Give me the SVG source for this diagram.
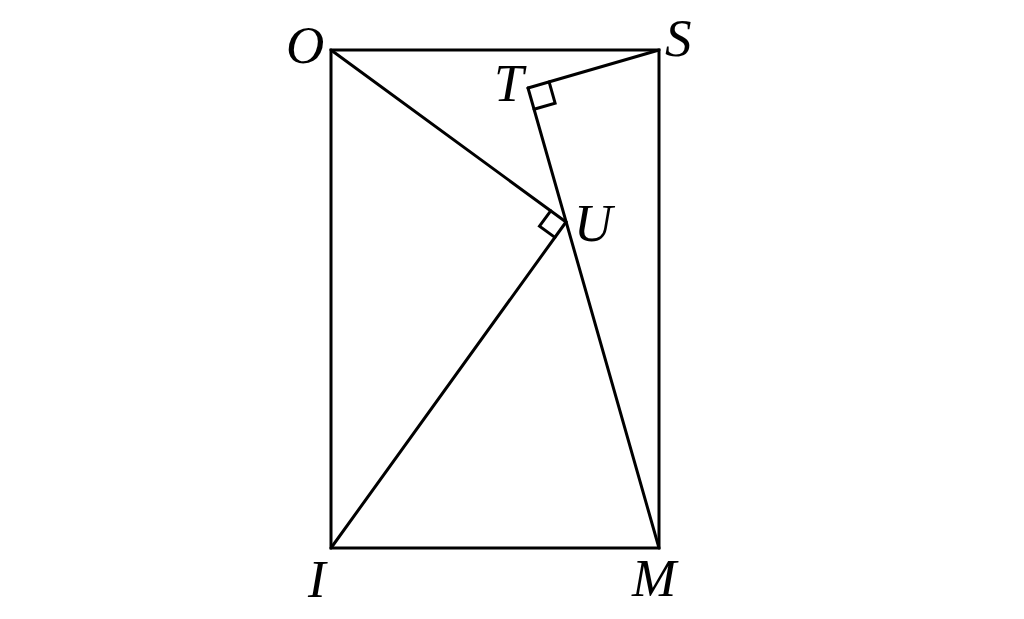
<svg xmlns="http://www.w3.org/2000/svg" width="1024" height="619" viewBox="0 0 1024 619">
<style>
.l{stroke:#000;stroke-width:3;fill:none;stroke-linejoin:miter;stroke-linecap:round}
.t{font-family:"Liberation Serif",serif;font-style:italic;font-size:53px;fill:#000}
</style>
<rect width="1024" height="619" fill="#fff"/>
<g id="connectors">
<polygon class="l" points="331,50 659,50 659,548 331,548"/>
<line class="l" x1="331" y1="50" x2="566" y2="222"/>
<line class="l" x1="331" y1="548" x2="566" y2="222"/>
<line class="l" x1="659" y1="50" x2="528" y2="88"/>
<line class="l" x1="528" y1="88" x2="659" y2="548"/>
<polyline class="l" points="549.1,81.9 555.1,103.1 534,109.2"/>
<polyline class="l" points="550.7,210.8 539.5,226.2 554.9,237.4"/>
</g>
<g id="O"><text class="t" x="286" y="63">O</text></g>
<g id="S"><text class="t" x="665" y="56">S</text></g>
<g id="T"><text class="t" x="494" y="101">T</text></g>
<g id="U"><text class="t" x="574" y="241">U</text></g>
<g id="I"><text class="t" x="308" y="597">I</text></g>
<g id="M"><text class="t" x="632" y="596">M</text></g>
</svg>
